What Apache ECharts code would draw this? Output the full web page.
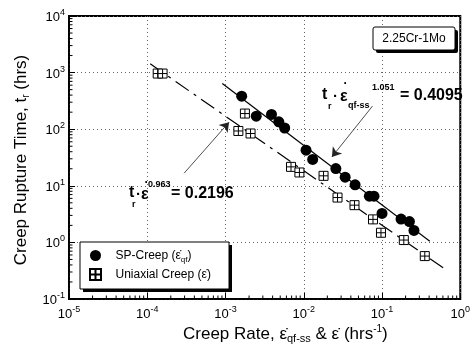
<!DOCTYPE html>
<html><head><meta charset="utf-8">
<script src="https://cdn.jsdelivr.net/npm/echarts@6/dist/echarts.min.js"></script>
<style>html,body{margin:0;padding:0;background:#fff}#c{width:473px;height:354px}</style>
</head><body><div id="c"></div>
<script>
// ---- data ----
const xTickExps = [-5, -4, -3, -2, -1, 0];
const yTickExps = [-1, 0, 1, 2, 3, 4];

const spRate = [1.61e-3, 2.47e-3, 3.87e-3, 4.8e-3, 5.7e-3, 0.0107, 0.013, 0.0257, 0.0338, 0.0453, 0.0689, 0.079, 0.1, 0.175, 0.224, 0.256];
const spTime = [383, 170, 182, 135, 105, 42.6, 29.2, 20.2, 14.2, 10.4, 6.56, 6.56, 3.25, 2.58, 2.33, 1.63];

const uniRate = [1.36e-4, 1.57e-4, 1.46e-3, 1.77e-3, 2.09e-3, 6.87e-3, 8.8e-3, 0.0179, 0.027, 0.0445, 0.0767, 0.097, 0.19, 0.352];
const uniTime = [962, 962, 93, 189, 84, 21.6, 17.2, 15, 6.2, 4.55, 2.55, 1.48, 1.1, 0.573];

// fitted lines (end points)
const spFitRate = [9.1e-4, 0.408];
const spFitTime = [641, 1.05];
const uniFitRate = [1.09e-4, 0.634];
const uniFitTime = [1432, 0.34];

// annotation arrows [fromRate, fromTime, toRate, toTime]
const arrowSP = [0.0754, 255, 0.0229, 32.4];
const arrowUni = [2.96e-4, 16.7, 1.11e-3, 133];

const FONT = '"Liberation Sans", Arial, Helvetica, sans-serif';

function zip(a, b) { return a.map((v, i) => [v, b[i]]); }

// minor tick positions (axis decoration)
const minorX = [], minorY = [];
for (let k = -5; k < 0; k++) for (let m = 2; m <= 9; m++) minorX.push(m * Math.pow(10, k));
for (let k = -1; k < 4; k++) for (let m = 2; m <= 9; m++) minorY.push(m * Math.pow(10, k));

function expLabel(v) {
  const e = Math.round(Math.log10(v));
  return '{b|10}{s|' + e + '}';
}
const tickRich = {
  b: { fontFamily: FONT, fontSize: 13, color: '#000', lineHeight: 16, verticalAlign: 'bottom' },
  s: { fontFamily: FONT, fontSize: 9, color: '#000', lineHeight: 9, verticalAlign: 'top' }
};

function txt(x, y, s, size, bold, align) {
  return { type: 'text', x: x, y: y, z: 100,
    style: { text: s, fontFamily: FONT, fontSize: size, fontWeight: bold ? 'bold' : 'normal',
      fill: '#000', align: align || 'left', verticalAlign: 'middle' } };
}

const chart = echarts.init(document.getElementById('c'), null, { renderer: 'canvas' });

const option = {
  animation: false,
  backgroundColor: '#fff',
  grid: { left: 69, right: 11, top: 16, bottom: 55, show: true, borderColor: '#000', borderWidth: 2 },
  xAxis: {
    type: 'log', logBase: 10, min: Math.pow(10, xTickExps[0]), max: Math.pow(10, xTickExps[xTickExps.length - 1]),
    axisLine: { lineStyle: { color: '#000', width: 1.5 } },
    axisTick: { inside: true, length: 6, lineStyle: { color: '#000' } },
    axisLabel: { formatter: expLabel, rich: tickRich, margin: 6 },
    splitLine: { show: true, lineStyle: { color: '#666', width: 1, type: [1, 3] } }
  },
  yAxis: {
    type: 'log', logBase: 10, min: Math.pow(10, yTickExps[0]), max: Math.pow(10, yTickExps[yTickExps.length - 1]),
    axisLine: { lineStyle: { color: '#000', width: 1.5 } },
    axisTick: { inside: true, length: 6, lineStyle: { color: '#000' } },
    axisLabel: { formatter: expLabel, rich: tickRich, margin: 4 },
    splitLine: { show: true, lineStyle: { color: '#666', width: 1, type: [1, 3] } }
  },
  legend: {
    orient: 'vertical', left: 80, top: 242, z: 30,
    data: ['SP-Creep', 'Uniaxial Creep'],
    itemWidth: 30, itemHeight: 11, itemGap: 4,
    padding: [6, 16, 3, 9],
    formatter: function (n) {
      return n === 'SP-Creep' ? '{a|SP-Creep (\u03b5\u0307}{s|qf}{a|)}' : '{a|Uniaxial Creep (\u03b5\u0307)}';
    },
    textStyle: {
      rich: {
        a: { fontFamily: FONT, fontSize: 12, color: '#000', lineHeight: 17 },
        s: { fontFamily: FONT, fontSize: 8, color: '#000', verticalAlign: 'bottom', lineHeight: 8, padding: [8, 0, 0, 0] }
      }
    }
  },
  series: [
    {
      name: 'SP-Creep', type: 'scatter', data: zip(spRate, spTime), symbol: 'circle', symbolSize: 11,
      itemStyle: { color: '#000', opacity: 1 }, z: 5
    },
    {
      name: 'Uniaxial Creep', type: 'scatter', data: zip(uniRate, uniTime),
      symbol: 'path://M0,0L10,0L10,10L0,10Z M5,0L5,10 M0,5L10,5', symbolSize: 9,
      itemStyle: { color: '#fff', borderColor: '#000', borderWidth: 1, opacity: 1 }, z: 5
    },
    {
      name: 'SP fit', type: 'line', data: zip(spFitRate, spFitTime), symbol: 'none',
      lineStyle: { color: '#000', width: 1.2 }, z: 3,
      markLine: {
        silent: true, symbol: ['none', 'arrow'], symbolSize: 9, label: { show: false },
        lineStyle: { color: '#222', width: 0.8, type: 'solid' },
        data: [
          [{ coord: [arrowSP[0], arrowSP[1]] }, { coord: [arrowSP[2], arrowSP[3]] }],
          [{ coord: [arrowUni[0], arrowUni[1]] }, { coord: [arrowUni[2], arrowUni[3]] }]
        ]
      }
    },
    {
      name: 'Uniaxial fit', type: 'line', data: zip(uniFitRate, uniFitTime), symbol: 'none',
      lineStyle: { color: '#000', width: 1.2, type: [16, 6, 3, 6] }, z: 3
    },
    {
      name: 'minorX', type: 'custom', data: minorX.map(v => [v, Math.pow(10, yTickExps[0])]), silent: true, z: 6,
      renderItem: function (params, api) {
        const p = api.coord([api.value(0), api.value(1)]);
        return { type: 'line', shape: { x1: p[0], y1: p[1], x2: p[0], y2: p[1] - 3.5 }, style: { stroke: '#000', lineWidth: 1 } };
      }
    },
    {
      name: 'minorY', type: 'custom', data: minorY.map(v => [Math.pow(10, xTickExps[0]), v]), silent: true, z: 6,
      renderItem: function (params, api) {
        const p = api.coord([api.value(0), api.value(1)]);
        return { type: 'line', shape: { x1: p[0], y1: p[1], x2: p[0] + 3.5, y2: p[1] }, style: { stroke: '#000', lineWidth: 1 } };
      }
    }
  ],
  graphic: [
    // legend frame with shadow
    { type: 'rect', shape: { x: 83, y: 245, width: 149, height: 47 }, z: 20, style: { fill: '#000' } },
    { type: 'rect', shape: { x: 80, y: 242, width: 149, height: 47 }, z: 21,
      style: { fill: '#fff', stroke: '#000', lineWidth: 1 } },
    // material box
    { type: 'rect', shape: { x: 376, y: 30, width: 82, height: 23, r: 2 }, z: 89, style: { fill: '#000' } },
    { type: 'rect', shape: { x: 373, y: 27, width: 82, height: 23, r: 2 }, z: 90,
      style: { fill: '#fff', stroke: '#000', lineWidth: 1 } },
    txt(414, 39, '2.25Cr-1Mo', 12, false, 'center'),
    // SP fit annotation
    txt(322, 95, 't', 16, true),
    txt(328, 107, 'r', 9, true),
    txt(333, 97, '\u00b7', 15, true),
    txt(340, 97, '\u03b5', 16, true),
    txt(343.5, 84, '\u00b7', 12, true),
    txt(348, 106, 'qf-ss', 9, true),
    txt(372, 88, '1.051', 9, true),
    txt(400, 96, '= 0.4095', 16, true),
    // Uniaxial fit annotation
    txt(129, 193, 't', 16, true),
    txt(132, 205, 'r', 9, true),
    txt(136, 195, '\u00b7', 15, true),
    txt(141, 195, '\u03b5', 16, true),
    txt(144.5, 183, '\u00b7', 12, true),
    txt(148, 185, '0.963', 9, true),
    txt(171, 194, '= 0.2196', 16, true),
    // axis titles
    { type: 'text', x: 21, y: 160, rotation: Math.PI / 2, z: 100,
      style: { text: '{a|Creep Rupture Time, t}{s|r}{a| (hrs)}', align: 'center', verticalAlign: 'middle',
        rich: {
          a: { fontFamily: FONT, fontSize: 17, fill: '#000', lineHeight: 20 },
          s: { fontFamily: FONT, fontSize: 10, fill: '#000', lineHeight: 10, verticalAlign: 'bottom', padding: [12, 0, 0, 0] }
        } } },
    { type: 'text', x: 183, y: 334, z: 100,
      style: { text: '{a|Creep Rate, \u03b5\u0307}{s|qf-ss}{a| & \u03b5\u0307 (hrs}{p|-1}{a|)}', align: 'left', verticalAlign: 'middle',
        rich: {
          a: { fontFamily: FONT, fontSize: 17, fill: '#000', lineHeight: 20 },
          s: { fontFamily: FONT, fontSize: 11, fill: '#000', lineHeight: 11, verticalAlign: 'bottom', padding: [14, 0, 0, 0] },
          p: { fontFamily: FONT, fontSize: 10, fill: '#000', lineHeight: 10, verticalAlign: 'top' }
        } } }
  ]
};
chart.setOption(option);
</script></body></html>
